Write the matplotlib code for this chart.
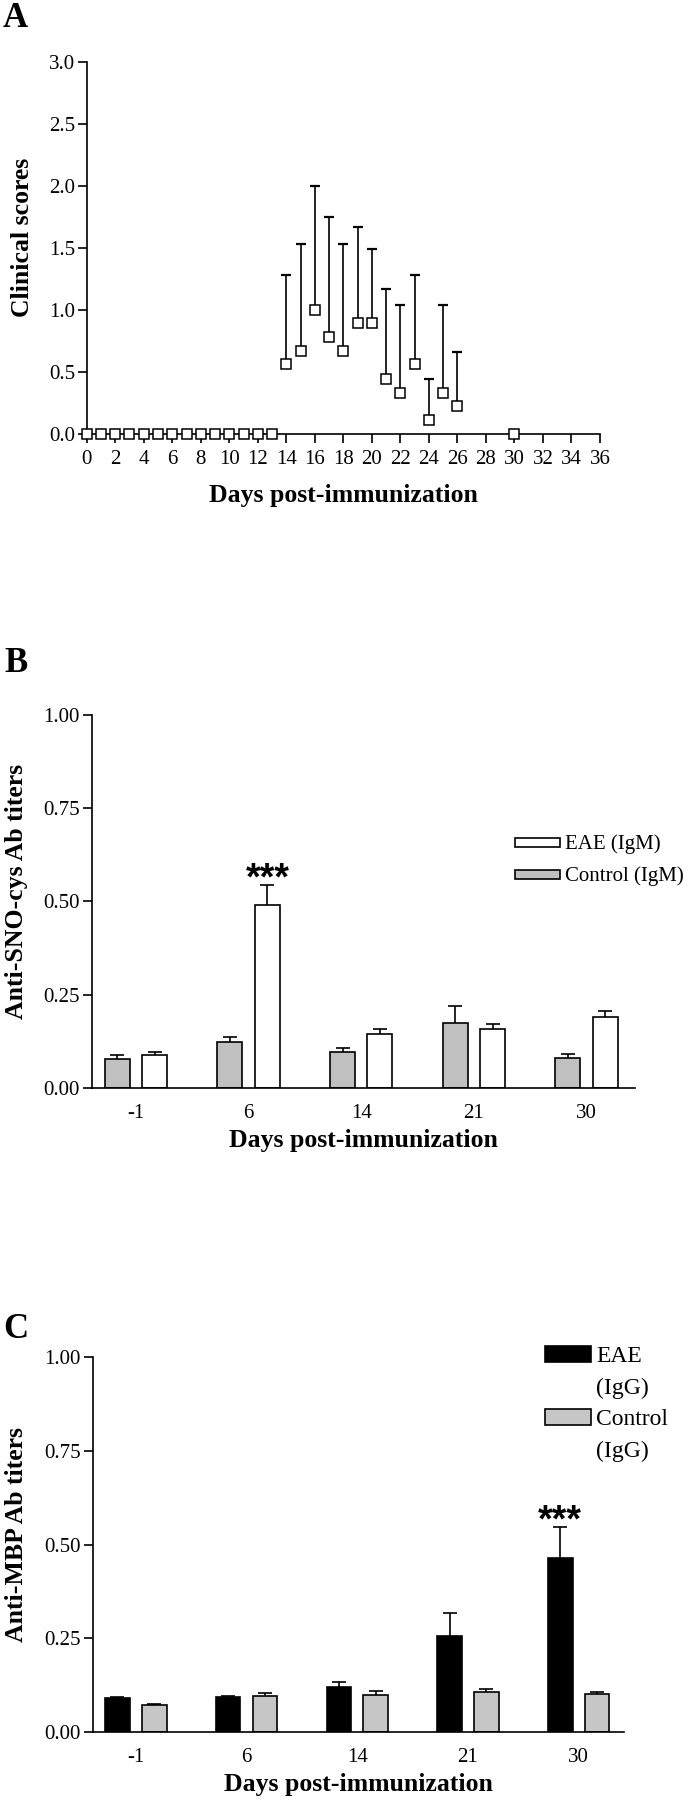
import matplotlib

matplotlib.use("Agg")
import matplotlib.pyplot as plt
import numpy as np
from matplotlib.patches import Rectangle
from matplotlib.ticker import FormatStrFormatter

plt.rcParams["font.family"] = ["Liberation Serif", "DejaVu Serif"]

W, H = 690, 1800  # figure size in pixels (dpi 100)

# --- panel A: clinical scores (mean + upper SEM) ---
days_a = [0, 1, 2, 3, 4, 5, 6, 7, 8, 9, 10, 11, 12, 13,
          14, 15, 16, 17, 18, 19, 20, 21, 22, 23, 24, 25, 26, 30]
score_a = [0, 0, 0, 0, 0, 0, 0, 0, 0, 0, 0, 0, 0, 0,
           0.56, 0.67, 1.00, 0.78, 0.67, 0.89, 0.89, 0.44, 0.33, 0.56, 0.11, 0.33, 0.22, 0]
sem_a = [0, 0, 0, 0, 0, 0, 0, 0, 0, 0, 0, 0, 0, 0,
         0.72, 0.86, 1.00, 0.97, 0.86, 0.78, 0.60, 0.73, 0.71, 0.72, 0.33, 0.71, 0.44, 0]

# --- panels B / C: antibody titers ---
groups = ["-1", "6", "14", "21", "30"]

eae_igm = [0.087, 0.491, 0.144, 0.158, 0.190]
eae_igm_err = [0.008, 0.052, 0.014, 0.014, 0.016]
ctrl_igm = [0.078, 0.122, 0.095, 0.174, 0.081]
ctrl_igm_err = [0.009, 0.014, 0.012, 0.044, 0.010]

eae_igg = [0.090, 0.092, 0.120, 0.255, 0.464]
eae_igg_err = [0.003, 0.004, 0.014, 0.061, 0.083]
ctrl_igg = [0.070, 0.096, 0.099, 0.106, 0.101]
ctrl_igg_err = [0.003, 0.007, 0.009, 0.009, 0.006]

TICK_FS = 15
LABEL_FS = 18.5
LW = 1.2


def add_axes_px(fig, left, top, right, bottom):
    return fig.add_axes([left / W, 1 - bottom / H, (right - left) / W, (bottom - top) / H])


def style_axes(ax, top, bottom, left, right, ylabel, ylabel_x, xlabel_y):
    for s in ("top", "right"):
        ax.spines[s].set_visible(False)
    for s in ("left", "bottom"):
        ax.spines[s].set_linewidth(LW)
    ax.tick_params(axis="both", direction="out", length=6.5, width=LW,
                   labelsize=TICK_FS, colors="black")
    ax.tick_params(axis="y", pad=2)
    ax.set_ylabel(ylabel, fontsize=LABEL_FS, fontweight="bold", va="center")
    ax.yaxis.set_label_coords((ylabel_x - left) / (right - left), 0.5 + 10 / (bottom - top))
    ax.set_xlabel("Days post-immunization", fontsize=LABEL_FS, fontweight="bold", va="center")
    ax.xaxis.set_label_coords(0.5, (bottom - xlabel_y) / (bottom - top))


def box_legend(fig, x0, x1, entries, fs, box_h, line_gap):
    # entries: (label, facecolor, box_center_y_px)
    for label, color, yc in entries:
        fig.add_artist(Rectangle((x0 / W, 1 - (yc + box_h / 2) / H), (x1 - x0) / W, box_h / H,
                                 transform=fig.transFigure, facecolor=color,
                                 edgecolor="black", linewidth=LW))
        for i, line in enumerate(label.split("\n")):
            base = yc + i * line_gap + 0.33 * fs * 100 / 72
            fig.text((x1 + 5) / W, 1 - base / H, line, fontsize=fs, va="baseline", ha="left")


fig = plt.figure(figsize=(W / 100, H / 100), dpi=100)

# ---------------- A ----------------
L, T, R, B = 86.7, 61.7, 600, 433.7
ax = add_axes_px(fig, L, T, R, B)
d = np.array(days_a)
s = np.array(score_a)
e = np.array(sem_a)
m = e > 0
ax.errorbar(d[m], s[m], yerr=[np.zeros(m.sum()), e[m]], fmt="none", ecolor="black",
            elinewidth=LW, capsize=3.9, capthick=1.6, zorder=3)
ax.plot(d, s, ls="none", marker="s", ms=7.5, mfc="white", mec="black", mew=1.1,
        clip_on=False, zorder=4)
ax.set_xlim(0, 36)
ax.set_ylim(0, 3)
ax.set_xticks(range(0, 37, 2))
ax.set_yticks([0, 0.5, 1.0, 1.5, 2.0, 2.5, 3.0])
ax.yaxis.set_major_formatter(FormatStrFormatter("%.1f"))
style_axes(ax, T, B, L, R, "Clinical scores", 23, 496)
ax.tick_params(axis="x", pad=5)
fig.text(3 / W, 1 - 27 / H, "A", fontsize=25, fontweight="bold")

x = np.arange(len(groups))
off, bw = 0.166, 0.222

# ---------------- B ----------------
L, T, R, B = 91.7, 715, 635, 1087.7
ax = add_axes_px(fig, L, T, R, B)
ax.bar(x - off, ctrl_igm, bw, color="#c0c0c0", edgecolor="black", lw=LW, zorder=2)
ax.bar(x + off, eae_igm, bw, color="white", edgecolor="black", lw=LW, zorder=2)
ax.errorbar(x - off, ctrl_igm, yerr=ctrl_igm_err, fmt="none", ecolor="black",
            elinewidth=LW, capsize=4.7, capthick=LW, zorder=1)
ax.errorbar(x + off, eae_igm, yerr=eae_igm_err, fmt="none", ecolor="black",
            elinewidth=LW, capsize=4.7, capthick=LW, zorder=1)
ax.text(x[1] + off, eae_igm[1] + eae_igm_err[1] + 0.015, "***", ha="center", va="center",
        fontsize=27, fontweight="bold", family="Liberation Sans")
ax.set_xlim(-0.393, 4.43)
ax.set_ylim(0, 1)
ax.set_xticks(x, groups)
ax.set_yticks([0, 0.25, 0.5, 0.75, 1.0])
ax.yaxis.set_major_formatter(FormatStrFormatter("%.2f"))
style_axes(ax, T, B, L, R, "Anti-SNO-cys Ab titers", 16, 1140)
ax.tick_params(axis="x", length=0, pad=12)
fig.text(4 / W, 1 - 672 / H, "B", fontsize=25, fontweight="bold")
box_legend(fig, 515, 560, [("EAE (IgM)", "white", 842),
                           ("Control (IgM)", "#c0c0c0", 874.5)], 15, 9, 0)

# ---------------- C ----------------
L, T, R, B = 92.7, 1357.3, 624, 1731.7
ax = add_axes_px(fig, L, T, R, B)
ax.bar(x - off, eae_igg, bw, color="black", edgecolor="black", lw=LW, zorder=2)
ax.bar(x + off, ctrl_igg, bw, color="#c6c6c6", edgecolor="black", lw=LW, zorder=2)
ax.errorbar(x - off, eae_igg, yerr=eae_igg_err, fmt="none", ecolor="black",
            elinewidth=LW, capsize=4.7, capthick=LW, zorder=1)
ax.errorbar(x + off, ctrl_igg, yerr=ctrl_igg_err, fmt="none", ecolor="black",
            elinewidth=LW, capsize=4.7, capthick=LW, zorder=1)
ax.text(x[4] - off, eae_igg[4] + eae_igg_err[4] + 0.015, "***", ha="center", va="center",
        fontsize=27, fontweight="bold", family="Liberation Sans")
ax.set_xlim(-0.39, 4.41)
ax.set_ylim(0, 1)
ax.set_xticks(x, groups)
ax.set_yticks([0, 0.25, 0.5, 0.75, 1.0])
ax.yaxis.set_major_formatter(FormatStrFormatter("%.2f"))
style_axes(ax, T, B, L, R, "Anti-MBP Ab titers", 16, 1785)
ax.tick_params(axis="x", length=0, pad=12)
fig.text(3 / W, 1 - 1338 / H, "C", fontsize=25, fontweight="bold")
box_legend(fig, 545, 591, [("EAE\n(IgG)", "black", 1354),
                           ("Control\n(IgG)", "#c6c6c6", 1417)], 17, 16, 32)

fig.savefig("out.png", dpi=100)
